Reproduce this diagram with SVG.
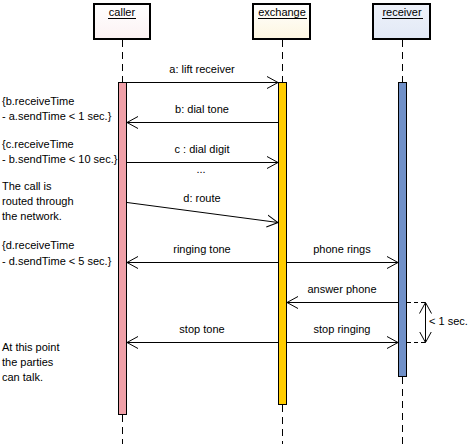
<svg xmlns="http://www.w3.org/2000/svg" width="470" height="444" viewBox="0 0 470 444">
<defs>
<marker id="open" viewBox="0 0 12 14" refX="11" refY="7" markerWidth="12" markerHeight="14" markerUnits="userSpaceOnUse" orient="auto">
<path d="M0,1 L11,7 L0,13" fill="none" stroke="#000" stroke-width="1"/>
</marker>
<linearGradient id="gc" x1="0" y1="0" x2="0" y2="1"><stop offset="0" stop-color="#ffffff"/><stop offset="1" stop-color="#fcf2f3"/></linearGradient>
<linearGradient id="ge" x1="0" y1="0" x2="0" y2="1"><stop offset="0" stop-color="#ffffff"/><stop offset="1" stop-color="#fdf6e0"/></linearGradient>
<linearGradient id="gr" x1="0" y1="0" x2="0" y2="1"><stop offset="0" stop-color="#eef2fa"/><stop offset="1" stop-color="#e2e9f6"/></linearGradient>
</defs>
<style>
text{font-family:"Liberation Sans",Arial,sans-serif;font-size:11px;fill:#000}
.head{stroke:#000;stroke-width:2}
.life{stroke:#000;stroke-width:1;stroke-dasharray:7,5;fill:none}
.act{stroke:#000;stroke-width:1}
.msg{stroke:#000;stroke-width:1;fill:none;marker-end:url(#open)}
.ul{stroke:#000;stroke-width:1}
.c{text-anchor:middle}
.dash{stroke:#000;stroke-width:1;stroke-dasharray:4,3;fill:none}
</style>
<rect width="470" height="444" fill="#fff"/>

<g id="caller">
<rect class="head" x="94" y="4" width="56" height="35" fill="url(#gc)"/>
<text class="c" x="122" y="16">caller</text>
<line class="ul" x1="108" y1="18.5" x2="136" y2="18.5"/>
<line class="life" x1="122.5" y1="40" x2="122.5" y2="82"/>
<line class="life" x1="122.5" y1="415" x2="122.5" y2="444"/>
<rect class="act" x="118.5" y="82.5" width="8" height="332" fill="#f0a0a8"/>
</g>

<g id="exchange">
<rect class="head" x="253" y="4" width="57" height="35" fill="url(#ge)"/>
<text class="c" x="282" y="16">exchange</text>
<line class="ul" x1="258" y1="18.5" x2="307" y2="18.5"/>
<line class="life" x1="282.5" y1="40" x2="282.5" y2="82"/>
<line class="life" x1="282.5" y1="405" x2="282.5" y2="444"/>
<rect class="act" x="278.5" y="82.5" width="8" height="322" fill="#ffcc00"/>
</g>

<g id="receiver">
<rect class="head" x="373" y="4" width="57" height="35" fill="url(#gr)"/>
<text class="c" x="402" y="16">receiver</text>
<line class="ul" x1="382" y1="18.5" x2="423" y2="18.5"/>
<line class="life" x1="402.5" y1="40" x2="402.5" y2="82"/>
<line class="life" x1="402.5" y1="377" x2="402.5" y2="444"/>
<rect class="act" x="398.5" y="82.5" width="8" height="294" fill="#7090c8"/>
</g>

<g id="connectors">
<line class="msg" x1="127" y1="82.5" x2="278" y2="82.5"/>
<line class="msg" x1="278" y1="122.5" x2="127" y2="122.5"/>
<line class="msg" x1="127" y1="162.5" x2="278" y2="162.5"/>
<line class="msg" x1="127" y1="202.5" x2="278" y2="222.5"/>
<line class="msg" x1="278" y1="262.5" x2="127" y2="262.5"/>
<line class="msg" x1="287" y1="262.5" x2="398" y2="262.5"/>
<line class="msg" x1="398" y1="302.5" x2="287" y2="302.5"/>
<line class="msg" x1="278" y1="342.5" x2="127" y2="342.5"/>
<line class="msg" x1="287" y1="342.5" x2="398" y2="342.5"/>
<line class="dash" x1="407" y1="302.5" x2="425" y2="302.5"/>
<line class="dash" x1="407" y1="342.5" x2="425" y2="342.5"/>
<line class="msg" x1="425.5" y1="322" x2="425.5" y2="302.5"/>
<line class="msg" x1="425.5" y1="322" x2="425.5" y2="342.5"/>
</g>

<g id="labels">
<text class="c" x="202" y="73">a: lift receiver</text>
<text class="c" x="202" y="113">b: dial tone</text>
<text class="c" x="202" y="153">c : dial digit</text>
<text class="c" x="201" y="173">...</text>
<text class="c" x="202" y="202">d: route</text>
<text class="c" x="202" y="253">ringing tone</text>
<text class="c" x="342" y="253">phone rings</text>
<text class="c" x="342" y="293">answer phone</text>
<text class="c" x="202" y="333">stop tone</text>
<text class="c" x="342" y="333">stop ringing</text>
<text x="429" y="325">&lt; 1 sec.</text>
</g>

<g id="notes">
<text x="2" y="105">{b.receiveTime</text>
<text x="2" y="120">- a.sendTime &lt; 1 sec.}</text>
<text x="2" y="148">{c.receiveTime</text>
<text x="2" y="163">- b.sendTime &lt; 10 sec.}</text>
<text x="2" y="190">The call is</text>
<text x="2" y="205">routed through</text>
<text x="2" y="220">the network.</text>
<text x="2" y="249">{d.receiveTime</text>
<text x="2" y="265">- d.sendTime &lt; 5 sec.}</text>
<text x="2" y="351">At this point</text>
<text x="2" y="366">the parties</text>
<text x="2" y="381">can talk.</text>
</g>
</svg>
